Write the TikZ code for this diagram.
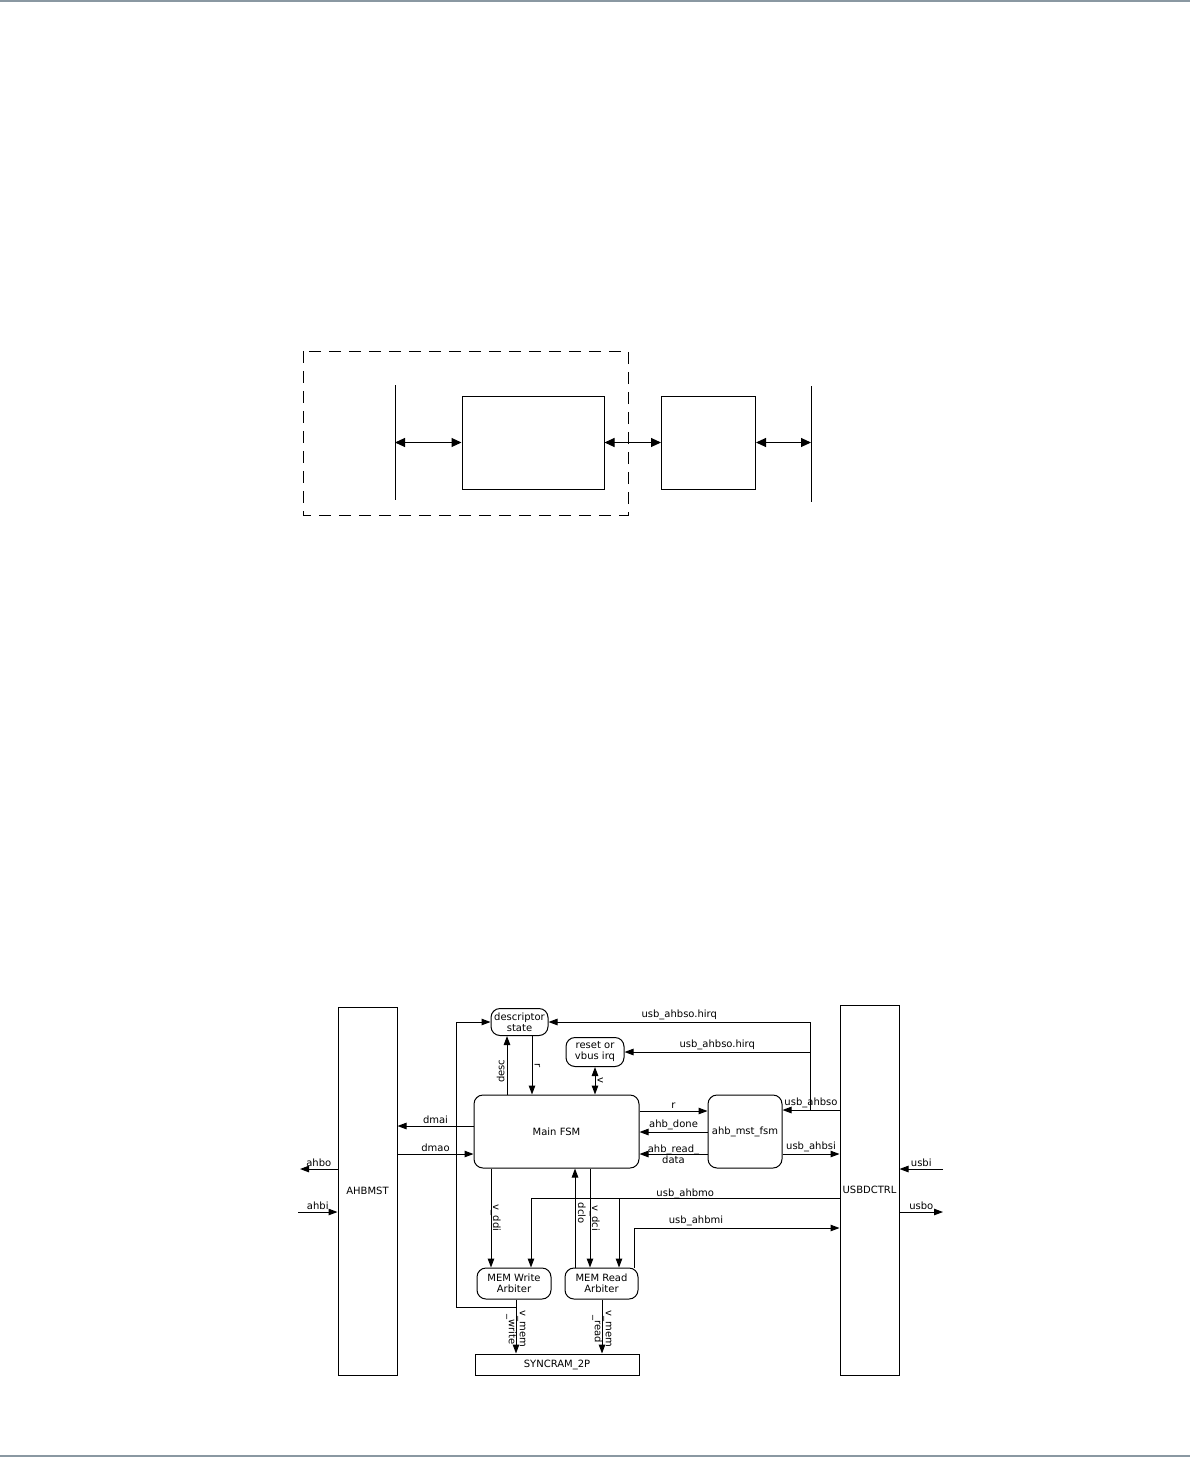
\documentclass[tikz,border=0pt]{standalone}
\usepackage{fontspec}
\setmainfont{DejaVu Sans}
\usetikzlibrary{arrows.meta, positioning}
\definecolor{pgGrey}{RGB}{138,152,162}

\tikzset{
  blk/.style={draw, inner sep=0pt, align=center},
  rblk/.style={draw, rounded corners=9pt, inner sep=0pt, align=center},
  lbl/.style={inner sep=2pt},
  bigtip/.style={>={Triangle[length=10pt,width=9pt]}}
}

\begin{document}
\begin{tikzpicture}[x=1pt, y=-1pt, line width=1pt,
    font=\fontsize{10}{11}\selectfont, >={Triangle[length=9pt,width=6.5pt]}]
  \useasboundingbox (0,0) rectangle (1190,1458);
  % page rules
  \draw[pgGrey, line width=2pt] (0,1) -- (1190,1);
  \draw[pgGrey, line width=2pt] (0,1456) -- (1190,1456);

  % upper sketch
  \draw[dash pattern=on 12pt off 8pt] (303,351) rectangle (628,515);
  \node[blk, minimum width=142, minimum height=93] (blkA) at (533,442.5) {};
  \node[blk, minimum width=94, minimum height=93] (blkB) at (708.5,442.5) {};
  \coordinate (busLa) at (395,385);
  \coordinate (busLb) at (395,500);
  \coordinate (busRa) at (811,386);
  \coordinate (busRb) at (811,502);
  \draw (busLa) -- (busLb);
  \draw (busRa) -- (busRb);
  \draw[bigtip, <->] (busLa |- blkA.west) -- (blkA.west);
  \draw[bigtip, <->] (blkA.east) -- (blkB.west);
  \draw[bigtip, <->] (blkB.east) -- (busRa |- blkB.east);

  % lower block diagram
  \node[blk, minimum width=59, minimum height=368] (ahbmst) at (367.5,1191) {AHBMST};
  \node[blk, minimum width=59, minimum height=370] (usbd) at (869.5,1190) {USBDCTRL};
  \node[rblk, minimum width=57, minimum height=27] (dstate) at (519.5,1022) {descriptor\\state};
  \node[rblk, minimum width=58, minimum height=29] (rst) at (595,1052) {reset or\\vbus irq};
  \node[rblk, minimum width=165, minimum height=73] (fsm) at (556.5,1131.5) {Main FSM};
  \node[rblk, minimum width=74, minimum height=73] (mst) at (745,1131.5) {ahb\_mst\_fsm};
  \node[rblk, minimum width=74, minimum height=31] (wr) at (514,1283.5) {MEM Write\\Arbiter};
  \node[rblk, minimum width=73, minimum height=31] (rd) at (601.5,1283.5) {MEM Read\\Arbiter};
  \node[blk, minimum width=164, minimum height=21] (ram) at (557,1364.5) {SYNCRAM\_2P};

  % usbdctrl side
  \coordinate (hirq) at (810,1110);
  \draw[->] (usbd.west |- hirq) -- node[lbl, above] {usb\_ahbso} (mst.east |- hirq);
  \draw[->] (hirq) |- node[lbl, above, pos=0.75] {usb\_ahbso.hirq} (dstate.east);
  \draw[->] (hirq |- rst.east) -- node[lbl, above] {usb\_ahbso.hirq} (rst.east);
  \draw[->] (mst.east |- 0,1154) -- node[lbl, above] {usb\_ahbsi} (usbd.west |- 0,1154);

  % fsm <-> ahb_mst_fsm
  \draw[->] (fsm.east |- 0,1111) -- node[lbl, above] {r} (mst.west |- 0,1111);
  \draw[->] (mst.west |- 0,1132) -- node[lbl, above] {ahb\_done} (fsm.east |- 0,1132);
  \draw[->] (mst.west |- 0,1154) -- node[inner sep=0pt, align=center] {ahb\_read\_\\data} (fsm.east |- 0,1154);

  % fsm <-> ahbmst
  \draw[->] (fsm.west |- 0,1126) -- node[lbl, above] {dmai} (ahbmst.east |- 0,1126);
  \draw[->] (ahbmst.east |- 0,1154) -- node[lbl, above] {dmao} (fsm.west |- 0,1154);

  % outer ports
  \coordinate (ahbo) at (300,1169);
  \coordinate (ahbi) at (298,1212);
  \coordinate (usbi) at (943,1169);
  \coordinate (usbo) at (943,1212);
  \draw[->] (ahbmst.west |- ahbo) -- node[lbl, above] {ahbo} (ahbo);
  \draw[->] (ahbi) -- node[lbl, above] {ahbi} (ahbmst.west |- ahbi);
  \draw[->] (usbi) -- node[lbl, above] {usbi} (usbd.east |- usbi);
  \draw[->] (usbd.east |- usbo) -- node[lbl, above] {usbo} (usbo);

  % fsm top
  \draw[->] (fsm.north -| 507,0) -- node[lbl, rotate=90, anchor=south, pos=0.4] {desc} (dstate.south -| 507,0);
  \draw[->] (dstate.south -| 532,0) -- node[lbl, rotate=-90, anchor=south, pos=0.5] {r} (fsm.north -| 532,0);
  \draw[<->] (rst.south) -- node[lbl, rotate=-90, anchor=south] {v} (fsm.north -| rst.south);

  % write loop back to descriptor
  \coordinate (tap) at (516,1307);
  \coordinate (loopc) at (456,1307);
  \draw[->] (tap) -- (loopc) |- (dstate.west);

  % fsm bottom
  \draw[->] (fsm.south -| 491,0) -- node[rotate=-90, anchor=base, inner sep=0pt, pos=0.5, xshift=0pt, yshift=2pt] {v\_ddi} (wr.north -| 491,0);
  \draw[->] (rd.north -| 575,0) -- node[rotate=-90, anchor=base, inner sep=0pt, pos=0.55, yshift=3pt] {dclo} (fsm.south -| 575,0);
  \draw[->] (fsm.south -| 590,0) -- node[rotate=-90, anchor=base, inner sep=0pt, pos=0.5, yshift=2pt] {v\_dci} (rd.north -| 590,0);

  % usb_ahbmo bus
  \coordinate (moL) at (531,1198);
  \coordinate (moR) at (619,1198);
  \draw (usbd.west |- moL) -- node[anchor=base, inner sep=0pt, pos=0.5, yshift=2pt] {usb\_ahbmo} (moL);
  \draw[->] (moL) -- (wr.north -| moL);
  \draw[->] (moR) -- (rd.north -| moR);
  \draw[->] ([xshift=-4pt]rd.north east) |- node[lbl, above, pos=0.65] {usb\_ahbmi} (usbd.west |- 0,1228);

  % arbiters to ram
  \draw[->] (wr.south -| tap) -- node[rotate=-90, align=center, inner sep=0pt, pos=0.55] {v\_mem\\\_write} (ram.north -| tap);
  \draw[->] (rd.south -| 602,0) -- node[rotate=-90, align=center, inner sep=0pt, pos=0.55] {v\_mem\\\_read} (ram.north -| 602,0);
\end{tikzpicture}
\end{document}
